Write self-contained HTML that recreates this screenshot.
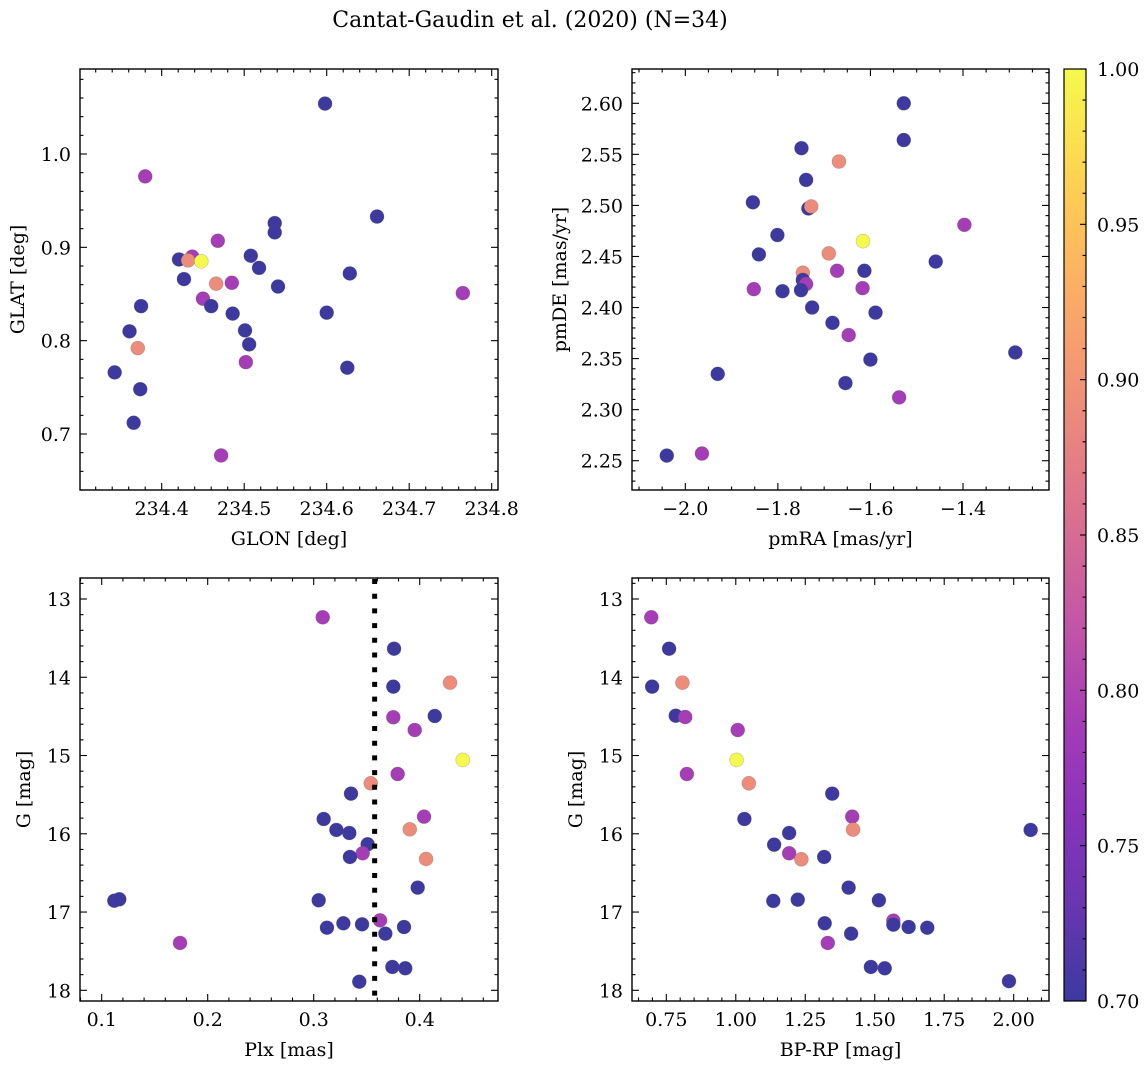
<!DOCTYPE html>
<html><head><meta charset="utf-8"><style>
html,body{margin:0;padding:0;background:#fff;}
svg{display:block;font-family:"DejaVu Serif","Liberation Serif",serif;}
</style></head><body>
<svg id="fig" width="1148" height="1068" viewBox="0 0 1148 1068" xmlns="http://www.w3.org/2000/svg">
<text x="530" y="27" font-size="22" text-anchor="middle">Cantat-Gaudin et al. (2020) (N=34)</text>
</svg>
<script>
// ---- Panel 1: GLON vs GLAT ----
const p1Glon=[234.598,234.380,234.661,234.537,234.537,234.468,234.421,234.437,234.432,234.448,234.508,234.518,234.628,234.427,234.466,234.485,234.541,234.765,234.375,234.450,234.460,234.486,234.600,234.361,234.501,234.506,234.371,234.502,234.625,234.343,234.374,234.366,234.472];
const p1Glat=[1.054,0.976,0.933,0.926,0.916,0.907,0.887,0.890,0.886,0.885,0.891,0.878,0.872,0.866,0.861,0.862,0.858,0.851,0.837,0.845,0.837,0.829,0.830,0.810,0.811,0.796,0.792,0.777,0.771,0.766,0.748,0.712,0.677];
const p1Prob=[0.70,0.79,0.70,0.70,0.70,0.79,0.70,0.79,0.89,1.00,0.70,0.70,0.70,0.70,0.89,0.79,0.70,0.79,0.70,0.79,0.70,0.70,0.70,0.70,0.70,0.70,0.89,0.79,0.70,0.70,0.70,0.70,0.79];
// ---- Panel 2: pmRA vs pmDE ----
const p2PmRA=[-1.528,-1.528,-1.749,-1.668,-1.739,-1.854,-1.734,-1.728,-1.397,-1.801,-1.616,-1.841,-1.690,-1.459,-1.672,-1.613,-1.746,-1.746,-1.739,-1.852,-1.790,-1.750,-1.617,-1.726,-1.589,-1.682,-1.647,-1.600,-1.287,-1.654,-1.930,-1.538,-2.040,-1.964];
const p2PmDE=[2.600,2.564,2.556,2.543,2.525,2.503,2.497,2.499,2.481,2.471,2.465,2.452,2.453,2.445,2.436,2.436,2.434,2.427,2.423,2.418,2.416,2.417,2.419,2.400,2.395,2.385,2.373,2.349,2.356,2.326,2.335,2.312,2.255,2.257];
const p2Prob=[0.70,0.70,0.70,0.89,0.70,0.70,0.70,0.89,0.79,0.70,1.00,0.70,0.89,0.70,0.79,0.70,0.89,0.70,0.79,0.79,0.70,0.70,0.79,0.70,0.70,0.70,0.79,0.70,0.70,0.70,0.70,0.79,0.70,0.79];
// ---- Panel 3: Plx vs G ----
const p3Plx=[0.3085,0.3758,0.3751,0.4286,0.3751,0.4142,0.3953,0.4406,0.3792,0.3538,0.3352,0.3094,0.4041,0.3906,0.3214,0.3336,0.3509,0.3462,0.3342,0.4060,0.3981,0.1119,0.1166,0.3047,0.3626,0.3280,0.3456,0.3125,0.3852,0.3676,0.1739,0.3742,0.3864,0.3430];
const p3G=[13.234,13.635,14.120,14.069,14.511,14.495,14.674,15.057,15.236,15.355,15.487,15.811,15.781,15.943,15.951,15.990,16.134,16.249,16.296,16.322,16.688,16.855,16.837,16.850,17.106,17.144,17.157,17.200,17.191,17.276,17.395,17.702,17.719,17.890];
const p3Prob=[0.79,0.70,0.70,0.89,0.79,0.70,0.79,1.00,0.79,0.89,0.70,0.70,0.79,0.89,0.70,0.70,0.70,0.79,0.70,0.89,0.70,0.70,0.70,0.70,0.79,0.70,0.70,0.70,0.70,0.70,0.79,0.70,0.70,0.70];
const plxCut=[0.3575];
// ---- Panel 4: BP-RP vs G ----
const p4BpRp=[0.696,0.760,0.699,0.808,0.784,0.818,1.007,1.003,0.824,1.047,1.347,1.031,1.419,1.422,2.061,1.192,1.138,1.192,1.318,1.236,1.406,1.135,1.223,1.515,1.567,1.567,1.622,1.689,1.320,1.415,1.331,1.486,1.536,1.983];
const p4G=[13.234,13.635,14.120,14.069,14.491,14.508,14.674,15.057,15.236,15.355,15.487,15.811,15.781,15.947,15.951,15.990,16.139,16.249,16.296,16.326,16.688,16.858,16.842,16.850,17.110,17.161,17.191,17.200,17.144,17.276,17.395,17.702,17.719,17.884];
const p4Prob=[0.79,0.70,0.70,0.89,0.70,0.79,0.79,1.00,0.79,0.89,0.70,0.70,0.79,0.89,0.70,0.70,0.70,0.79,0.70,0.89,0.70,0.70,0.70,0.70,0.79,0.70,0.70,0.70,0.70,0.70,0.79,0.70,0.70,0.70];
// ---- Colorbar ----
const cbarTicks=[0.70,0.75,0.80,0.85,0.90,0.95,1.00];
const cbarRange=[0.70,1.00];

const NS="http://www.w3.org/2000/svg";
const svg=document.getElementById('fig');
const FS=19;
function mk(tag,attrs,parent){const e=document.createElementNS(NS,tag);for(const k in attrs)e.setAttribute(k,attrs[k]);(parent||svg).appendChild(e);return e;}
const plasma=[[13,8,135],[65,4,157],[106,0,168],[143,13,164],[177,42,144],[204,71,120],[225,100,98],[242,132,75],[252,166,54],[252,206,37],[240,249,33]];
function cmap(p){let t=(p-cbarRange[0])/(cbarRange[1]-cbarRange[0]);t=Math.max(0,Math.min(1,t));const f=t*10,i=Math.min(9,Math.floor(f)),r=f-i;const a=plasma[i],b=plasma[i+1];const c=[0,1,2].map(k=>a[k]+(b[k]-a[k])*r);const al=0.8;return 'rgb('+c.map(v=>Math.round(v*al+255*(1-al))).join(',')+')';}
function lin(v0,p0,v1,p1){const s=(p1-p0)/(v1-v0);const f=v=>p0+(v-v0)*s;f.inv=p=>v0+(p-p0)/s;return f;}
function fmtNum(v,d){const s=Math.abs(v).toFixed(d);return (v<-1e-9?'\u2212':'')+s;}

function panel(cfg){
  const {name,L,R,T,B,sx,sy,xMaj,xMin,yMaj,yMin,xd,yd,xTitle,yTitle,xs,ys,ps}=cfg;
  const g=mk('g',{});
  
  
  const cid='clip-'+name;
  const cp=mk('clipPath',{id:cid},g);mk('rect',{x:L,y:T,width:R-L,height:B-T},cp);
  const pg=mk('g',{'clip-path':'url(#'+cid+')'},g);
  for(let i=0;i<xs.length;i++){
    const c=mk('circle',{cx:sx(xs[i]).toFixed(2),cy:sy(ys[i]).toFixed(2),r:7,fill:cmap(ps[i]),stroke:'rgba(90,90,90,0.35)','stroke-width':0.6},pg);
    
    
  }
  if(cfg.extra)cfg.extra(pg);
  const fr=mk('rect',{x:L,y:T,width:R-L,height:B-T,fill:'none',stroke:'#000','stroke-width':1.4},g);
  
  
  const tk=mk('g',{stroke:'#000','stroke-width':1.1},g);
  function ticksFor(step,lo,hi){const out=[];for(let k=Math.ceil(lo/step-1e-6);k<=Math.floor(hi/step+1e-6);k++)out.push(+(k*step).toFixed(6));return out;}
  const xlo=Math.min(sx.inv(L),sx.inv(R)),xhi=Math.max(sx.inv(L),sx.inv(R));
  const ylo=Math.min(sy.inv(T),sy.inv(B)),yhi=Math.max(sy.inv(T),sy.inv(B));
  const isMaj=(v,st)=>Math.abs(v/st-Math.round(v/st))<1e-4;
  ticksFor(xMin,xlo,xhi).forEach(v=>{const x=sx(v);const len=isMaj(v,xMaj)?7:3.5;
    mk('line',{x1:x,x2:x,y1:B,y2:B-len},tk);mk('line',{x1:x,x2:x,y1:T,y2:T+len},tk);});
  ticksFor(yMin,ylo,yhi).forEach(v=>{const y=sy(v);const len=isMaj(v,yMaj)?7:3.5;
    mk('line',{x1:L,x2:L+len,y1:y,y2:y},tk);mk('line',{x1:R,x2:R-len,y1:y,y2:y},tk);});
  ticksFor(xMaj,xlo,xhi).forEach(v=>{const t=mk('text',{x:sx(v),y:B+25,'font-size':FS,'text-anchor':'middle'},g);t.textContent=fmtNum(v,xd);
    
    });
  ticksFor(yMaj,ylo,yhi).forEach(v=>{const t=mk('text',{x:L-9,y:sy(v)+7,'font-size':FS,'text-anchor':'end'},g);t.textContent=fmtNum(v,yd);
    
    });
  const xt=mk('text',{x:(L+R)/2,y:B+55,'font-size':FS,'text-anchor':'middle'},g);xt.textContent=xTitle;
  
  
  const yx=cfg.yTitleX,ym=(T+B)/2;
  const yt=mk('text',{x:yx,y:ym,'font-size':FS,'text-anchor':'middle',transform:'rotate(-90 '+yx+' '+ym+')'},g);yt.textContent=yTitle;
  
  
}

panel({name:'glon-glat-panel',L:80,R:498,T:69,B:490,sx:lin(234.4,161.7,234.8,491.7),sy:lin(1.0,154,0.7,434),xMaj:0.1,xMin:0.02,yMaj:0.1,yMin:0.02,xd:1,yd:1,xTitle:'GLON [deg]',yTitle:'GLAT [deg]',yTitleX:24,xs:p1Glon,ys:p1Glat,ps:p1Prob});
panel({name:'pm-panel',L:632,R:1049,T:69,B:490,sx:lin(-2.0,685.3,-1.4,963),sy:lin(2.60,103.3,2.25,460.7),xMaj:0.2,xMin:0.05,yMaj:0.05,yMin:0.01,xd:1,yd:2,xTitle:'pmRA [mas/yr]',yTitle:'pmDE [mas/yr]',yTitleX:566,xs:p2PmRA,ys:p2PmDE,ps:p2Prob});
const s3x=lin(0.1,101.7,0.4,419.7),s3y=lin(13,599,18,990.3);
panel({name:'plx-g-panel',L:80,R:498,T:578,B:1001,sx:s3x,sy:s3y,xMaj:0.1,xMin:0.02,yMaj:1,yMin:0.2,xd:1,yd:0,xTitle:'Plx [mas]',yTitle:'G [mag]',yTitleX:30,xs:p3Plx,ys:p3G,ps:p3Prob,
  extra:(pg)=>{plxCut.forEach(v=>{const l=mk('line',{x1:s3x(v),x2:s3x(v),y1:578,y2:1001,stroke:'#000','stroke-width':5,'stroke-dasharray':'5 9.7','stroke-dashoffset':-1},pg);
    
    });}});
panel({name:'cmd-panel',L:632,R:1049,T:578,B:1001,sx:lin(0.75,666.3,2.0,1013.7),sy:lin(13,599,18,990.3),xMaj:0.25,xMin:0.05,yMaj:1,yMin:0.2,xd:2,yd:0,xTitle:'BP-RP [mag]',yTitle:'G [mag]',yTitleX:582,xs:p4BpRp,ys:p4G,ps:p4Prob});

(function(){
  const L=1064,R=1086,T=69,B=1001;
  const cg=mk('g',{});
  
  
  const gr=mk('linearGradient',{id:'cbg',x1:0,y1:1,x2:0,y2:0},cg);
  for(let i=0;i<=20;i++){const p=cbarRange[0]+(cbarRange[1]-cbarRange[0])*i/20;mk('stop',{offset:(i/20),'stop-color':cmap(p)},gr);}
  mk('rect',{x:L,y:T,width:R-L,height:B-T,fill:'url(#cbg)',stroke:'#000','stroke-width':1.2},cg);
  const cy=lin(cbarRange[0],B,cbarRange[1],T);
  for(let k=70;k<=100;k++){const v=k/100;const maj=k%5===0;mk('line',{x1:R,x2:R-(maj?6:3.5),y1:cy(v),y2:cy(v),stroke:'#000','stroke-width':1.1},cg);}
  cbarTicks.forEach(v=>{const t=mk('text',{x:1097,y:cy(v)+7,'font-size':FS},cg);t.textContent=v.toFixed(2);
    
    });
})();
</script>
</body></html>
